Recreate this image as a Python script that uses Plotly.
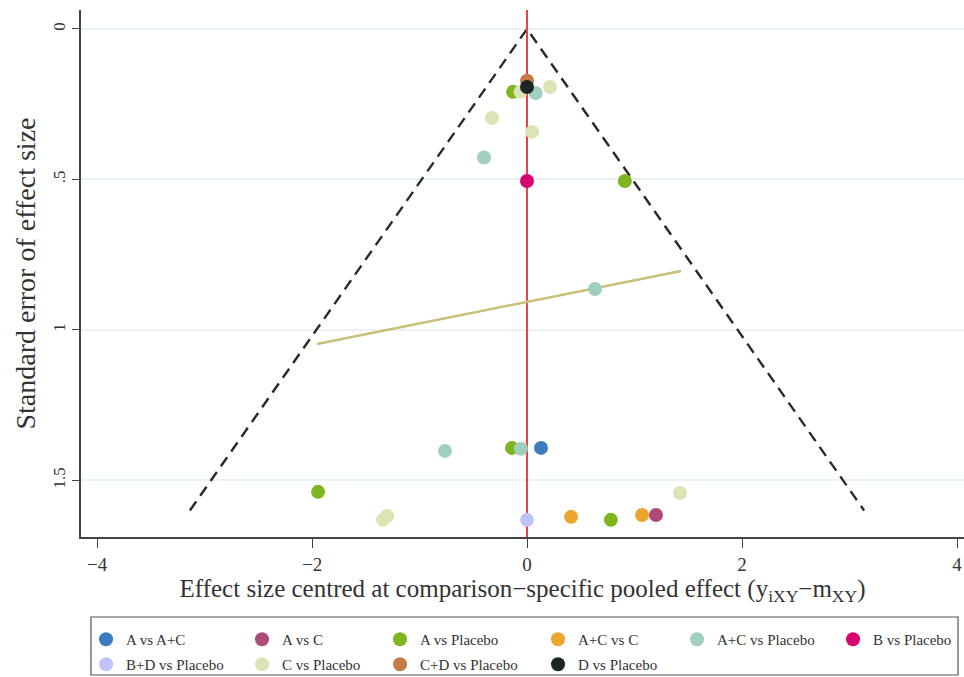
import plotly.graph_objects as go

# Comparison-adjusted funnel plot: each study's effect centred at its
# comparison-specific pooled effect, against the standard error.
comparisons = [
    "A vs A+C", "A vs C", "A vs Placebo", "A+C vs C", "A+C vs Placebo",
    "B vs Placebo", "B+D vs Placebo", "C vs Placebo", "C+D vs Placebo", "D vs Placebo",
]
colors = [
    "#3b7bbf", "#b04a78", "#7fb51f", "#eca62e", "#9fd0bd",
    "#d8006f", "#c0c3fa", "#dce4b5", "#c47c44", "#1c2624",
]

# centred effect sizes (y_iXY - m_XY) per comparison
effect_a_ac = [0.13]
effect_a_c = [1.20]
effect_a_pl = [-0.13, 0.91, -0.14, -1.944, 0.78]
effect_ac_c = [0.41, 1.07]
effect_ac_pl = [0.08, -0.40, 0.633, -0.763, -0.056]
effect_b_pl = [0.0]
effect_bd_pl = [0.0]
effect_c_pl = [-0.06, 0.214, -0.326, 0.047, 1.423, -1.34, -1.30]
effect_cd_pl = [0.0]
effect_d_pl = [0.0]

# standard errors per comparison
se_a_ac = [1.392]
se_a_c = [1.615]
se_a_pl = [0.209, 0.505, 1.392, 1.538, 1.631]
se_ac_c = [1.621, 1.615]
se_ac_pl = [0.213, 0.427, 0.864, 1.402, 1.395]
se_b_pl = [0.505]
se_bd_pl = [1.631]
se_c_pl = [0.209, 0.193, 0.296, 0.342, 1.542, 1.631, 1.618]
se_cd_pl = [0.172]
se_d_pl = [0.193]

effects = [effect_a_ac, effect_a_c, effect_a_pl, effect_ac_c, effect_ac_pl,
           effect_b_pl, effect_bd_pl, effect_c_pl, effect_cd_pl, effect_d_pl]
ses = [se_a_ac, se_a_c, se_a_pl, se_ac_c, se_ac_pl,
       se_b_pl, se_bd_pl, se_c_pl, se_cd_pl, se_d_pl]

# pseudo 95% confidence limits: +/- 1.96 * SE, up to the largest SE shown
z = 1.96
se_max = 1.60

# fitted small-study line (end points)
fit_x = [-1.953, 1.433]
fit_se = [1.047, 0.804]

x_ticks = [-4, -2, 0, 2, 4]
y_ticks = [0, 0.5, 1, 1.5]
y_ticktext = ["0", ".5", "1", "1.5"]

x_range = [-4.149, 4.065]
y_range = [1.688, -0.063]

serif = "Liberation Serif, Times New Roman, serif"
ink = "#333333"

# legend laid out as a 6-column grid: first row in "legend", second in "legend2"
per_row = 6
col_widths = [111, 93, 113, 94, 111, 86]

fig = go.Figure()

# funnel limits
fig.add_trace(go.Scatter(
    x=[-z * se_max, 0, z * se_max], y=[se_max, 0, se_max],
    mode="lines", line=dict(color="#2a2a2a", width=2.4, dash="11px,7px"),
    showlegend=False, hoverinfo="skip",
))

# line of no difference from the pooled effect
fig.add_trace(go.Scatter(
    x=[0, 0], y=y_range, mode="lines",
    line=dict(color="#e8424a", width=2), showlegend=False, hoverinfo="skip",
))

# fitted line
fig.add_trace(go.Scatter(
    x=fit_x, y=fit_se, mode="lines",
    line=dict(color="#c8bf7a", width=2.5), showlegend=False, hoverinfo="skip",
))

n_items = len(comparisons)
for i, (name, col, ex, se) in enumerate(zip(comparisons, colors, effects, ses)):
    row, c = divmod(i, per_row)
    last_in_row = (c == per_row - 1) or (i == n_items - 1)
    fig.add_trace(go.Scatter(
        x=ex, y=se, mode="markers", name=name,
        marker=dict(color=col, size=14, line=dict(width=0)),
        legend="legend" if row == 0 else "legend2",
        legendwidth=col_widths[-1] if last_in_row else col_widths[c],
    ))

legend_common = dict(
    orientation="h", xanchor="left", yanchor="top", x=0.0057,
    font=dict(family=serif, size=15, color=ink),
    borderwidth=0, bgcolor="rgba(0,0,0,0)", traceorder="normal",
)

fig.update_layout(
    width=964, height=677,
    margin=dict(l=81, r=0, t=10, b=140, autoexpand=False),
    plot_bgcolor="white", paper_bgcolor="white",
    font=dict(family=serif, color=ink),
    legend=dict(legend_common, y=-0.1632),
    legend2=dict(legend_common, y=-0.2106),
    shapes=[dict(
        type="rect", xref="paper", yref="paper",
        x0=0.0113, x1=0.9932, y0=-0.2619, y1=-0.1518,
        line=dict(color="#555555", width=1.2), fillcolor="white", layer="below",
    )],
    xaxis=dict(
        range=x_range, tickvals=x_ticks, showgrid=False, zeroline=False,
        showline=True, linecolor="#444444", linewidth=1.5,
        ticks="outside", ticklen=9, tickcolor="#444444", tickwidth=1.3,
        tickfont=dict(family=serif, size=19, color=ink),
        title=dict(
            text="Effect size centred at comparison\u2212specific pooled effect "
                 "(y<sub>iXY</sub>\u2212m<sub>XY</sub>)",
            font=dict(family=serif, size=25, color=ink), standoff=3,
        ),
    ),
    yaxis=dict(
        range=y_range, tickvals=y_ticks, ticktext=y_ticktext, tickangle=-90,
        showgrid=True, gridcolor="#e9f3f3", gridwidth=1.5, zeroline=False,
        showline=True, linecolor="#444444", linewidth=1.5,
        ticks="outside", ticklen=7, tickcolor="#444444", tickwidth=1.3,
        tickfont=dict(family=serif, size=17, color=ink),
        title=dict(
            text="Standard error of effect size",
            font=dict(family=serif, size=28, color=ink), standoff=7,
        ),
    ),
)

fig.write_html("out.html")
